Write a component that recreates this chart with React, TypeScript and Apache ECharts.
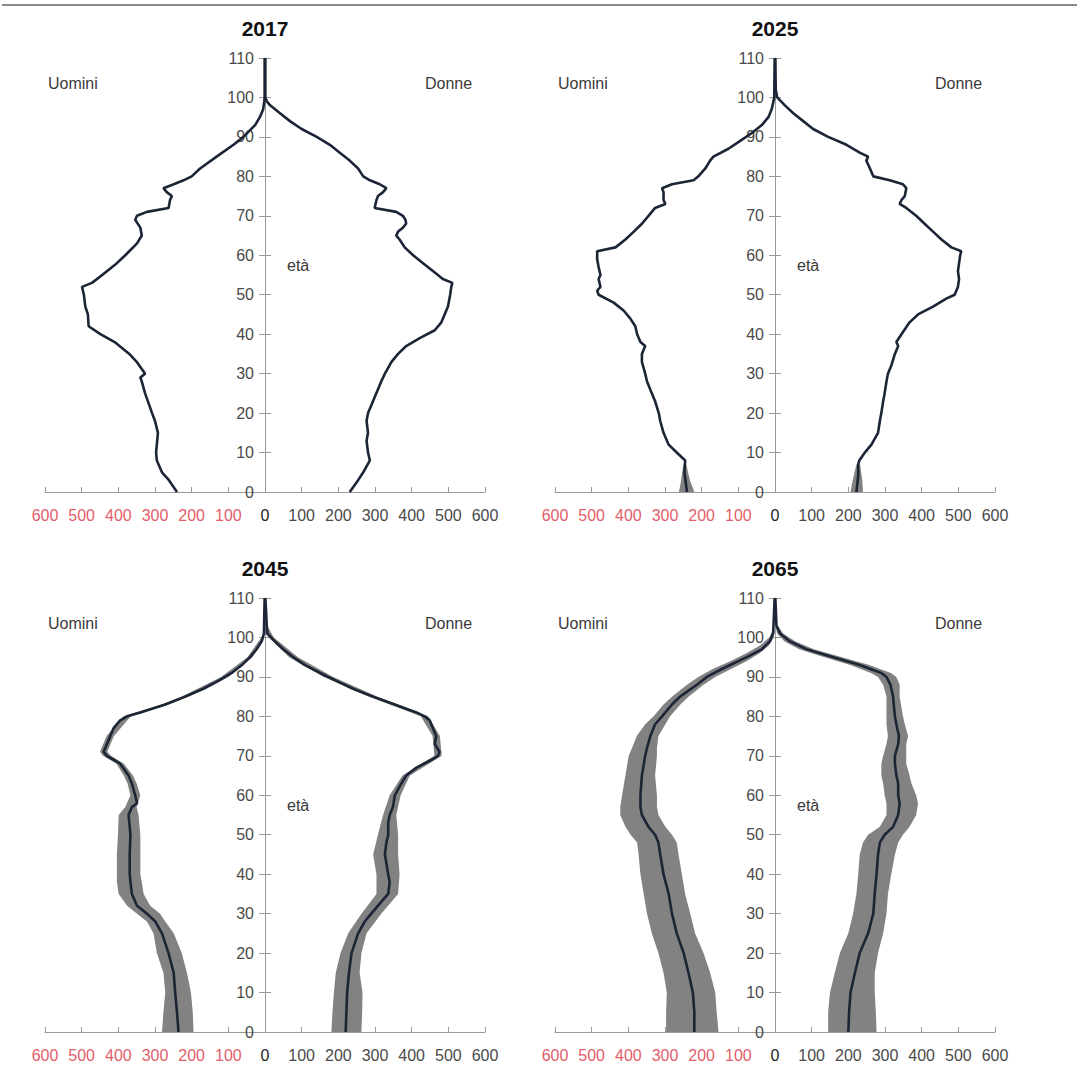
import React, { useEffect, useRef } from "react";
import * as echarts from "echarts";

type Pt = [number, number]; // [age, population (thousands)]
type Band = [number, number, number]; // [age, low, high]

const years = ["2017", "2025", "2045", "2065"];
const sideLabels = ["Uomini", "Donne"];
const ageLabel = "età";

// ---- 2017 ----
const men2017: Pt[] = [
  [0, 240], [3, 262], [5, 281], [8, 295], [10, 297], [13, 294], [15, 292], [18, 300], [20, 308], [25, 327],
  [28, 336], [29, 340], [30, 327], [33, 350], [35, 370], [38, 410], [40, 449], [42, 481], [45, 483], [47, 490],
  [50, 494], [52, 499], [53, 472], [55, 444], [58, 404], [60, 381], [63, 349], [65, 336], [67, 340], [69, 354],
  [70, 349], [71, 322], [72, 263], [74, 259], [75, 254], [76, 268], [77, 277], [78, 249], [79, 222], [80, 200],
  [82, 177], [85, 132], [88, 86], [90, 59], [93, 27], [95, 14], [97, 5], [99, 2], [100, 1], [110, 1],
];
const women2017: Pt[] = [
  [0, 231], [3, 254], [5, 268], [8, 286], [10, 281], [13, 277], [15, 281], [18, 277], [20, 281], [22, 290],
  [24, 299], [26, 308], [28, 317], [30, 327], [33, 345], [35, 363], [37, 385], [39, 422], [41, 463], [43, 481],
  [45, 490], [47, 499], [50, 505], [52, 508], [53, 511], [54, 485], [56, 458], [58, 431], [60, 404], [62, 381],
  [64, 367], [65, 358], [66, 363], [67, 376], [68, 385], [69, 383], [70, 376], [71, 358], [72, 299], [74, 304],
  [75, 308], [76, 322], [77, 331], [78, 313], [79, 286], [80, 268], [82, 254], [84, 231], [86, 204], [88, 177],
  [90, 141], [92, 100], [94, 68], [96, 41], [98, 14], [99, 5], [100, 1], [110, 1],
];

// ---- 2025 ----
const men2025: Pt[] = [
  [0, 240], [5, 247], [8, 245], [10, 268], [12, 290], [15, 304], [18, 313], [20, 317], [23, 327], [25, 336],
  [28, 349], [30, 354], [33, 363], [35, 363], [37, 354], [38, 367], [40, 376], [42, 381], [44, 395], [46, 413],
  [48, 440], [50, 481], [51, 485], [52, 476], [54, 481], [55, 476], [57, 481], [59, 485], [61, 485], [62, 435],
  [64, 408], [66, 385], [68, 363], [70, 345], [72, 327], [73, 299], [74, 304], [76, 304], [77, 308], [78, 281],
  [79, 222], [80, 209], [82, 190], [84, 177], [85, 168], [87, 127], [89, 95], [91, 63], [93, 36], [95, 18],
  [97, 9], [100, 2], [110, 1],
];
const women2025: Pt[] = [
  [0, 222], [4, 227], [7, 227], [8, 230], [10, 245], [12, 263], [15, 281], [18, 286], [20, 290], [23, 295],
  [25, 299], [28, 304], [30, 308], [32, 317], [35, 327], [37, 336], [38, 331], [40, 345], [43, 367], [45, 390],
  [47, 431], [49, 467], [50, 490], [52, 499], [54, 502], [56, 499], [58, 502], [60, 505], [61, 508], [62, 481],
  [64, 454], [66, 431], [68, 408], [70, 385], [72, 358], [73, 340], [74, 345], [75, 354], [77, 358], [78, 349],
  [79, 313], [80, 268], [82, 259], [83, 254], [84, 249], [85, 254], [86, 231], [88, 195], [90, 145], [92, 104],
  [94, 77], [96, 50], [98, 27], [100, 6], [102, 2], [110, 1],
];
const bandMen2025: Band[] = [[0, 220, 262], [3, 232, 256], [7, 242, 250]];
const bandWomen2025: Band[] = [[0, 206, 240], [3, 212, 238], [7, 222, 232]];

// ---- 2045 ----
const men2045: Pt[] = [
  [0, 236], [5, 240], [10, 245], [15, 249], [20, 263], [25, 281], [28, 299], [30, 322], [32, 349], [35, 363],
  [38, 367], [40, 369], [45, 369], [50, 367], [55, 372], [57, 363], [58, 349], [60, 354], [63, 363], [65, 372],
  [68, 395], [70, 431], [71, 440], [73, 431], [75, 422], [77, 413], [79, 395], [80, 376], [81, 340], [83, 272],
  [85, 218], [87, 168], [89, 127], [91, 91], [93, 63], [95, 41], [97, 23], [99, 9], [101, 3], [110, 1],
];
const women2045: Pt[] = [
  [0, 220], [5, 222], [10, 224], [15, 229], [20, 236], [25, 254], [28, 272], [30, 290], [33, 317], [35, 336],
  [38, 340], [40, 336], [45, 327], [48, 331], [50, 336], [53, 336], [55, 340], [57, 349], [60, 354], [63, 372],
  [65, 385], [67, 413], [69, 454], [70, 472], [71, 476], [73, 463], [75, 467], [77, 458], [79, 449], [80, 435],
  [81, 413], [83, 354], [85, 295], [87, 240], [89, 195], [91, 150], [93, 109], [95, 77], [97, 50], [99, 27],
  [101, 6], [110, 1],
];
const bandMen2045: Band[] = [
  [0, 195, 281], [5, 197, 277], [10, 202, 272], [15, 213, 277], [20, 227, 295], [25, 249, 304], [28, 272, 322],
  [30, 286, 349], [32, 313, 376], [35, 331, 399], [38, 336, 404], [40, 340, 404], [45, 340, 404], [50, 340, 401],
  [55, 345, 399], [57, 350, 381], [60, 340, 367], [63, 350, 375], [65, 360, 385], [68, 385, 405], [70, 420, 442],
  [71, 430, 450], [75, 412, 432], [80, 366, 386], [83, 262, 282], [85, 208, 228], [90, 100, 120], [95, 34, 48],
  [100, 2, 10],
];
const bandWomen2045: Band[] = [
  [0, 181, 263], [5, 184, 265], [10, 188, 266], [15, 193, 258], [20, 206, 263], [25, 227, 277], [30, 263, 317],
  [35, 304, 363], [40, 304, 367], [45, 295, 363], [50, 308, 363], [55, 322, 358], [60, 340, 370], [65, 375, 395],
  [70, 462, 482], [75, 457, 477], [80, 425, 445], [85, 283, 307], [90, 160, 186], [95, 66, 90], [100, 10, 24],
  [103, 2, 6],
];

// ---- 2065 ----
const men2065: Pt[] = [
  [0, 220], [5, 220], [10, 224], [15, 236], [20, 249], [25, 268], [30, 281], [35, 290], [40, 304], [45, 313],
  [48, 318], [50, 327], [52, 345], [55, 363], [57, 367], [60, 367], [65, 363], [70, 354], [72, 349], [75, 340],
  [78, 327], [80, 308], [83, 281], [85, 259], [88, 213], [90, 186], [92, 145], [94, 100], [95, 77], [97, 36],
  [99, 14], [101, 5], [110, 1],
];
const women2065: Pt[] = [
  [0, 200], [5, 202], [10, 206], [15, 218], [20, 231], [25, 254], [30, 268], [35, 272], [40, 277], [45, 281],
  [48, 286], [50, 299], [52, 322], [55, 336], [58, 340], [60, 336], [63, 336], [65, 331], [68, 327], [70, 327],
  [73, 336], [75, 338], [78, 331], [80, 327], [85, 322], [88, 315], [90, 304], [91, 290], [93, 231], [95, 159],
  [97, 86], [99, 41], [101, 14], [103, 4], [110, 1],
];
const bandMen2065: Band[] = [
  [0, 154, 297], [5, 159, 297], [10, 163, 295], [15, 177, 304], [20, 195, 318], [25, 218, 336], [30, 231, 349],
  [35, 245, 358], [40, 254, 367], [45, 263, 372], [48, 268, 376], [50, 281, 394], [52, 299, 408], [55, 318, 422],
  [57, 322, 422], [60, 322, 417], [65, 327, 408], [70, 322, 399], [72, 322, 390], [75, 318, 377], [78, 299, 354],
  [80, 286, 331], [83, 258, 304], [85, 236, 281], [88, 195, 240], [90, 163, 209], [92, 120, 170], [94, 78, 122],
  [96, 42, 78], [98, 16, 40], [100, 4, 16], [102, 1, 5],
];
const bandWomen2065: Band[] = [
  [0, 145, 277], [5, 145, 275], [10, 150, 272], [15, 163, 272], [20, 177, 281], [25, 200, 295], [30, 213, 304],
  [35, 222, 308], [40, 227, 317], [45, 231, 327], [48, 240, 336], [50, 254, 349], [52, 286, 367], [55, 304, 385],
  [58, 304, 390], [60, 299, 385], [63, 295, 372], [65, 290, 367], [68, 290, 358], [70, 295, 358], [73, 304, 358],
  [75, 308, 363], [78, 304, 354], [80, 304, 349], [85, 304, 340], [88, 295, 340], [90, 281, 331], [91, 262, 316],
  [93, 205, 257], [95, 135, 183], [97, 66, 106], [99, 26, 56], [101, 6, 22], [103, 1, 7],
];

const GRID_W = 440;
const GRID_H = 434;
const panelPos = [
  { left: 45, top: 58 },
  { left: 555, top: 58 },
  { left: 45, top: 598 },
  { left: 555, top: 598 },
];

const panels = [
  { men: men2017, women: women2017, bandMen: [] as Band[], bandWomen: [] as Band[] },
  { men: men2025, women: women2025, bandMen: bandMen2025, bandWomen: bandWomen2025 },
  { men: men2045, women: women2045, bandMen: bandMen2045, bandWomen: bandWomen2045 },
  { men: men2065, women: women2065, bandMen: bandMen2065, bandWomen: bandWomen2065 },
];

const TICKFONT = "'Liberation Sans', Arial, sans-serif";
const SANS = "'Liberation Sans', Arial, sans-serif";
const LINE_COLOR = "#1c2536";
const BAND_COLOR = "#828282";
const RED = "#e35d6a";

function bandPolygon(band: Band[], sign: number): number[][] {
  const low = band.map((b) => [sign * b[1], b[0]]);
  const high = band.slice().reverse().map((b) => [sign * b[2], b[0]]);
  return low.concat(high);
}

function buildOption() {
  const grid: any[] = [];
  const xAxis: any[] = [];
  const yAxis: any[] = [];
  const series: any[] = [];
  const graphic: any[] = [];

  graphic.push({
    type: "line",
    shape: { x1: 2, y1: 5, x2: 1077, y2: 5 },
    style: { stroke: "#8a8a8a", lineWidth: 2 },
    silent: true,
  });

  panels.forEach((p, i) => {
    const pos = panelPos[i];
    const cx = pos.left + GRID_W / 2;
    grid.push({ left: pos.left, top: pos.top, width: GRID_W, height: GRID_H, containLabel: false });
    xAxis.push({
      type: "value",
      gridIndex: i,
      min: -600,
      max: 600,
      interval: 100,
      position: "bottom",
      axisLine: { onZero: false, lineStyle: { color: "#9a9a9a", width: 1 } },
      axisTick: { show: true, inside: true, length: 5, lineStyle: { color: "#9a9a9a" } },
      splitLine: { show: false },
      axisLabel: {
        margin: 15,
        fontFamily: TICKFONT,
        fontSize: 16,
        formatter: (v: number) => String(Math.abs(v)),
        color: (v: any) => (Number(v) < 0 ? RED : Number(v) === 0 ? "#222" : "#4a4a4a"),
      },
    });
    yAxis.push({
      type: "value",
      gridIndex: i,
      min: 0,
      max: 110,
      interval: 10,
      position: "left",
      offset: -GRID_W / 2,
      axisLine: { show: true, onZero: false, lineStyle: { color: "#9a9a9a", width: 1 } },
      axisTick: { show: true, length: 6, lineStyle: { color: "#9a9a9a" } },
      splitLine: { show: false },
      axisLabel: { margin: 11, fontFamily: TICKFONT, fontSize: 16, color: "#4a4a4a" },
    });
    yAxis.push({
      type: "value",
      gridIndex: i,
      min: 0,
      max: 110,
      interval: 10,
      position: "right",
      offset: -GRID_W / 2,
      axisLine: { show: false, onZero: false },
      axisTick: { show: true, length: 6, lineStyle: { color: "#9a9a9a" } },
      splitLine: { show: false },
      axisLabel: { show: false },
    });

    const bands: [Band[], number][] = [
      [p.bandMen, -1],
      [p.bandWomen, 1],
    ];
    bands.forEach(([band, sign]) => {
      if (!band.length) return;
      const poly = bandPolygon(band, sign);
      series.push({
        type: "custom",
        xAxisIndex: i,
        yAxisIndex: 2 * i,
        z: 1,
        silent: true,
        data: poly,
        encode: { x: 0, y: 1 },
        renderItem: (params: any, api: any) => {
          if (params.dataIndex !== 0) return null;
          const pts = poly.map((q) => api.coord(q));
          return { type: "polygon", shape: { points: pts }, style: { fill: BAND_COLOR } };
        },
      });
    });

    series.push({
      type: "line",
      xAxisIndex: i,
      yAxisIndex: 2 * i,
      z: 3,
      showSymbol: false,
      data: p.men.map((d) => [-d[1], d[0]]),
      lineStyle: { color: LINE_COLOR, width: 2.6 },
      silent: true,
    });
    series.push({
      type: "line",
      xAxisIndex: i,
      yAxisIndex: 2 * i,
      z: 3,
      showSymbol: false,
      data: p.women.map((d) => [d[1], d[0]]),
      lineStyle: { color: LINE_COLOR, width: 2.6 },
      silent: true,
    });

    const titleY = pos.top - 30;
    graphic.push({
      type: "text",
      x: cx,
      y: titleY,
      style: {
        text: years[i],
        fontFamily: SANS,
        fontWeight: "bold",
        fontSize: 21,
        fill: "#111",
        textAlign: "center",
        textVerticalAlign: "middle",
      },
    });
    graphic.push({
      type: "text",
      x: pos.left + 3,
      y: pos.top + 25,
      style: { text: sideLabels[0], fontFamily: SANS, fontSize: 16, fill: "#3a3a3a", textVerticalAlign: "middle" },
    });
    graphic.push({
      type: "text",
      x: pos.left + 380,
      y: pos.top + 25,
      style: { text: sideLabels[1], fontFamily: SANS, fontSize: 16, fill: "#3a3a3a", textVerticalAlign: "middle" },
    });
    graphic.push({
      type: "text",
      x: cx + 22,
      y: pos.top + 207,
      style: { text: ageLabel, fontFamily: SANS, fontSize: 16, fill: "#3a3a3a", textVerticalAlign: "middle" },
    });
  });

  return {
    animation: false,
    backgroundColor: "#ffffff",
    grid,
    xAxis,
    yAxis,
    series,
    graphic,
  };
}

export default function App() {
  const ref = useRef<HTMLDivElement>(null);
  useEffect(() => {
    if (!ref.current) return;
    const chart = echarts.init(ref.current, undefined, { renderer: "svg" });
    chart.setOption(buildOption() as any);
    return () => {
      chart.dispose();
    };
  }, []);
  return (
    <div
      ref={ref}
      style={{ position: "fixed", left: 0, top: 0, width: 1077, height: 1069, background: "#fff" }}
    />
  );
}
